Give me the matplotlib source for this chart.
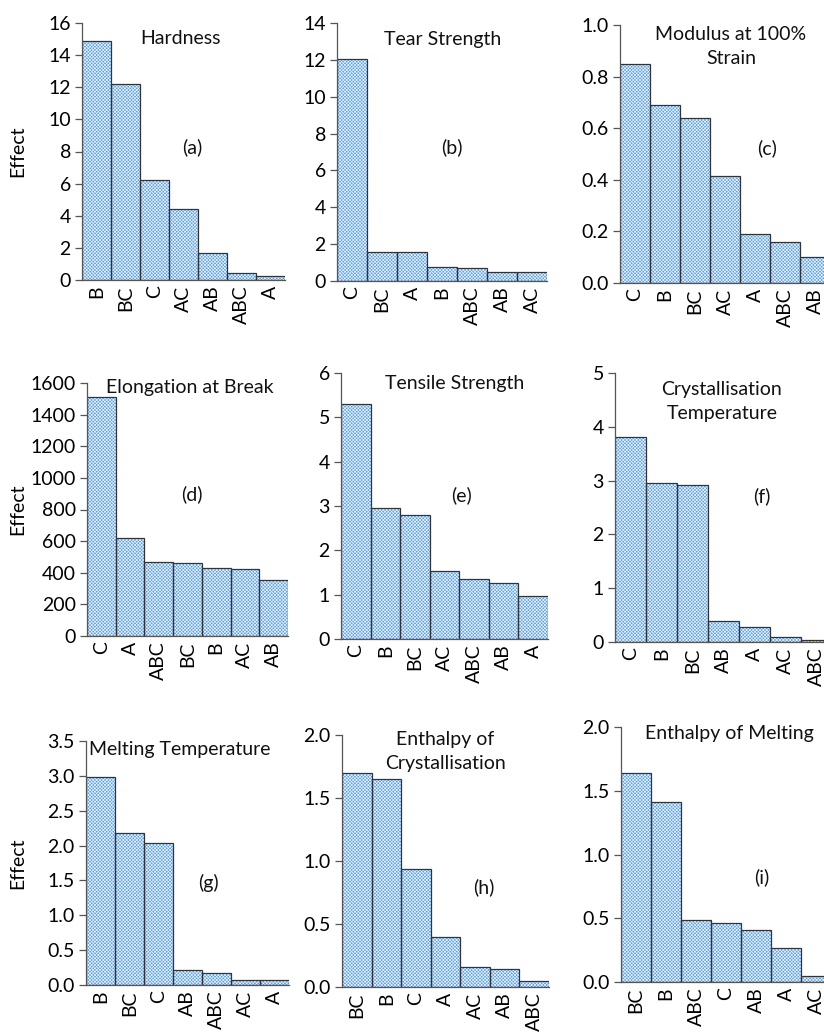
import matplotlib
matplotlib.use("Agg")
import matplotlib.pyplot as plt
import numpy as np

plt.rcParams['font.family'] = ['Lato', 'DejaVu Sans']
plt.rcParams['hatch.linewidth'] = 0.45

# effects for each response (Pareto order)
hardness_lbl = ["B", "BC", "C", "AC", "AB", "ABC", "A"]
hardness_val = [14.9, 12.2, 6.25, 4.43, 1.65, 0.41, 0.25]

tear_lbl = ["C", "BC", "A", "B", "ABC", "AB", "AC"]
tear_val = [12.05, 1.6, 1.55, 0.76, 0.7, 0.5, 0.5]

modulus_lbl = ["C", "B", "BC", "AC", "A", "ABC", "AB"]
modulus_val = [0.848, 0.688, 0.641, 0.415, 0.19, 0.157, 0.10]

elong_lbl = ["C", "A", "ABC", "BC", "B", "AC", "AB"]
elong_val = [1512, 621, 465, 459, 432, 425, 354]

tensile_lbl = ["C", "B", "BC", "AC", "ABC", "AB", "A"]
tensile_val = [5.30, 2.95, 2.79, 1.54, 1.36, 1.26, 0.96]

cryst_t_lbl = ["C", "B", "BC", "AB", "A", "AC", "ABC"]
cryst_t_val = [3.81, 2.95, 2.91, 0.39, 0.27, 0.10, 0.04]

melt_t_lbl = ["B", "BC", "C", "AB", "ABC", "AC", "A"]
melt_t_val = [2.98, 2.18, 2.03, 0.22, 0.17, 0.065, 0.065]

cryst_h_lbl = ["BC", "B", "C", "A", "AC", "AB", "ABC"]
cryst_h_val = [1.70, 1.65, 0.94, 0.40, 0.16, 0.145, 0.05]

melt_h_lbl = ["BC", "B", "ABC", "C", "AB", "A", "AC"]
melt_h_val = [1.64, 1.41, 0.49, 0.46, 0.41, 0.27, 0.05]

W, H = 824, 1032
FS = 14
fig = plt.figure(figsize=(W / 100, H / 100), dpi=100)


def px(x, y):
    return x / W, 1 - y / H


# (labels, values, title, title pos, panel tag, tag pos, axes box px, yticks, fmt, ylabel)
panels = [
    (hardness_lbl, hardness_val, "Hardness", (180, 38), "(a)", (192, 147),
     (82, 23, 285, 280), np.arange(0, 17, 2), "{:.0f}", True),
    (tear_lbl, tear_val, "Tear Strength", (443, 39), "(b)", (452, 147),
     (337, 23, 547, 281), np.arange(0, 15, 2), "{:.0f}", False),
    (modulus_lbl, modulus_val, "Modulus at 100%\nStrain", (731, 47), "(c)", (767, 148),
     (620, 25, 830, 283), np.arange(0, 1.01, 0.2), "{:.1f}", False),
    (elong_lbl, elong_val, "Elongation at Break", (190, 387), "(d)", (192, 494),
     (87, 383, 288, 636), np.arange(0, 1601, 200), "{:.0f}", True),
    (tensile_lbl, tensile_val, "Tensile Strength", (455, 383), "(e)", (462, 495),
     (341, 373, 548, 639), np.arange(0, 7, 1), "{:.0f}", False),
    (cryst_t_lbl, cryst_t_val, "Crystallisation\nTemperature", (722, 401), "(f)", (762, 496),
     (615, 373, 832, 642), np.arange(0, 6, 1), "{:.0f}", False),
    (melt_t_lbl, melt_t_val, "Melting Temperature", (180, 750), "(g)", (208, 883),
     (86, 741, 289, 985), np.arange(0, 3.51, 0.5), "{:.1f}", True),
    (cryst_h_lbl, cryst_h_val, "Enthalpy of\nCrystallisation", (445, 752), "(h)", (484, 887),
     (342, 735, 549, 987), np.arange(0, 2.01, 0.5), "{:.1f}", False),
    (melt_h_lbl, melt_h_val, "Enthalpy of Melting", (729, 733), "(i)", (762, 877),
     (621, 727, 831, 982), np.arange(0, 2.01, 0.5), "{:.1f}", False),
]

for lbl, val, title, tpos, tag, gpos, box, yt, fmt, eff in panels:
    x0, y0, x1, y1 = box
    ax = fig.add_axes([x0 / W, 1 - y1 / H, (x1 - x0) / W, (y1 - y0) / H])
    xs = np.arange(len(lbl))
    # checkered fill: blue base with fine white hatch, then dark outline on top
    ax.bar(xs, val, width=1.0, color="#5a9fec", hatch="x" * 10, edgecolor="#f4f9ff", linewidth=0)
    ax.bar(xs, val, width=1.0, fill=False, edgecolor="#333333", linewidth=0.9)
    ax.set_xlim(-0.5, len(lbl) - 0.5)
    ax.set_ylim(yt[0], yt[-1])
    ax.set_yticks(yt)
    ax.set_yticklabels([fmt.format(v) for v in yt], fontsize=FS)
    ax.set_xticks(xs)
    ax.set_xticklabels(lbl, rotation=90, fontsize=FS)
    ax.tick_params(axis="x", length=0, pad=4)
    ax.tick_params(axis="y", direction="out", length=5, width=0.9, color="#555555", pad=3)
    for s in ["top", "right"]:
        ax.spines[s].set_visible(False)
    for s in ["left", "bottom"]:
        ax.spines[s].set_color("#555555")
        ax.spines[s].set_linewidth(0.9)

    fig.text(*px(*tpos), title, ha="center", va="center", fontsize=FS,
             linespacing=1.5, color="#111111")
    fig.text(*px(*gpos), tag, ha="center", va="center", fontsize=FS, color="#111111")
    if eff:
        fig.text(*px(18, (y0 + y1) / 2), "Effect", rotation=90, ha="center", va="center",
                 fontsize=FS)

fig.savefig("out.png", dpi=100, facecolor="white")
